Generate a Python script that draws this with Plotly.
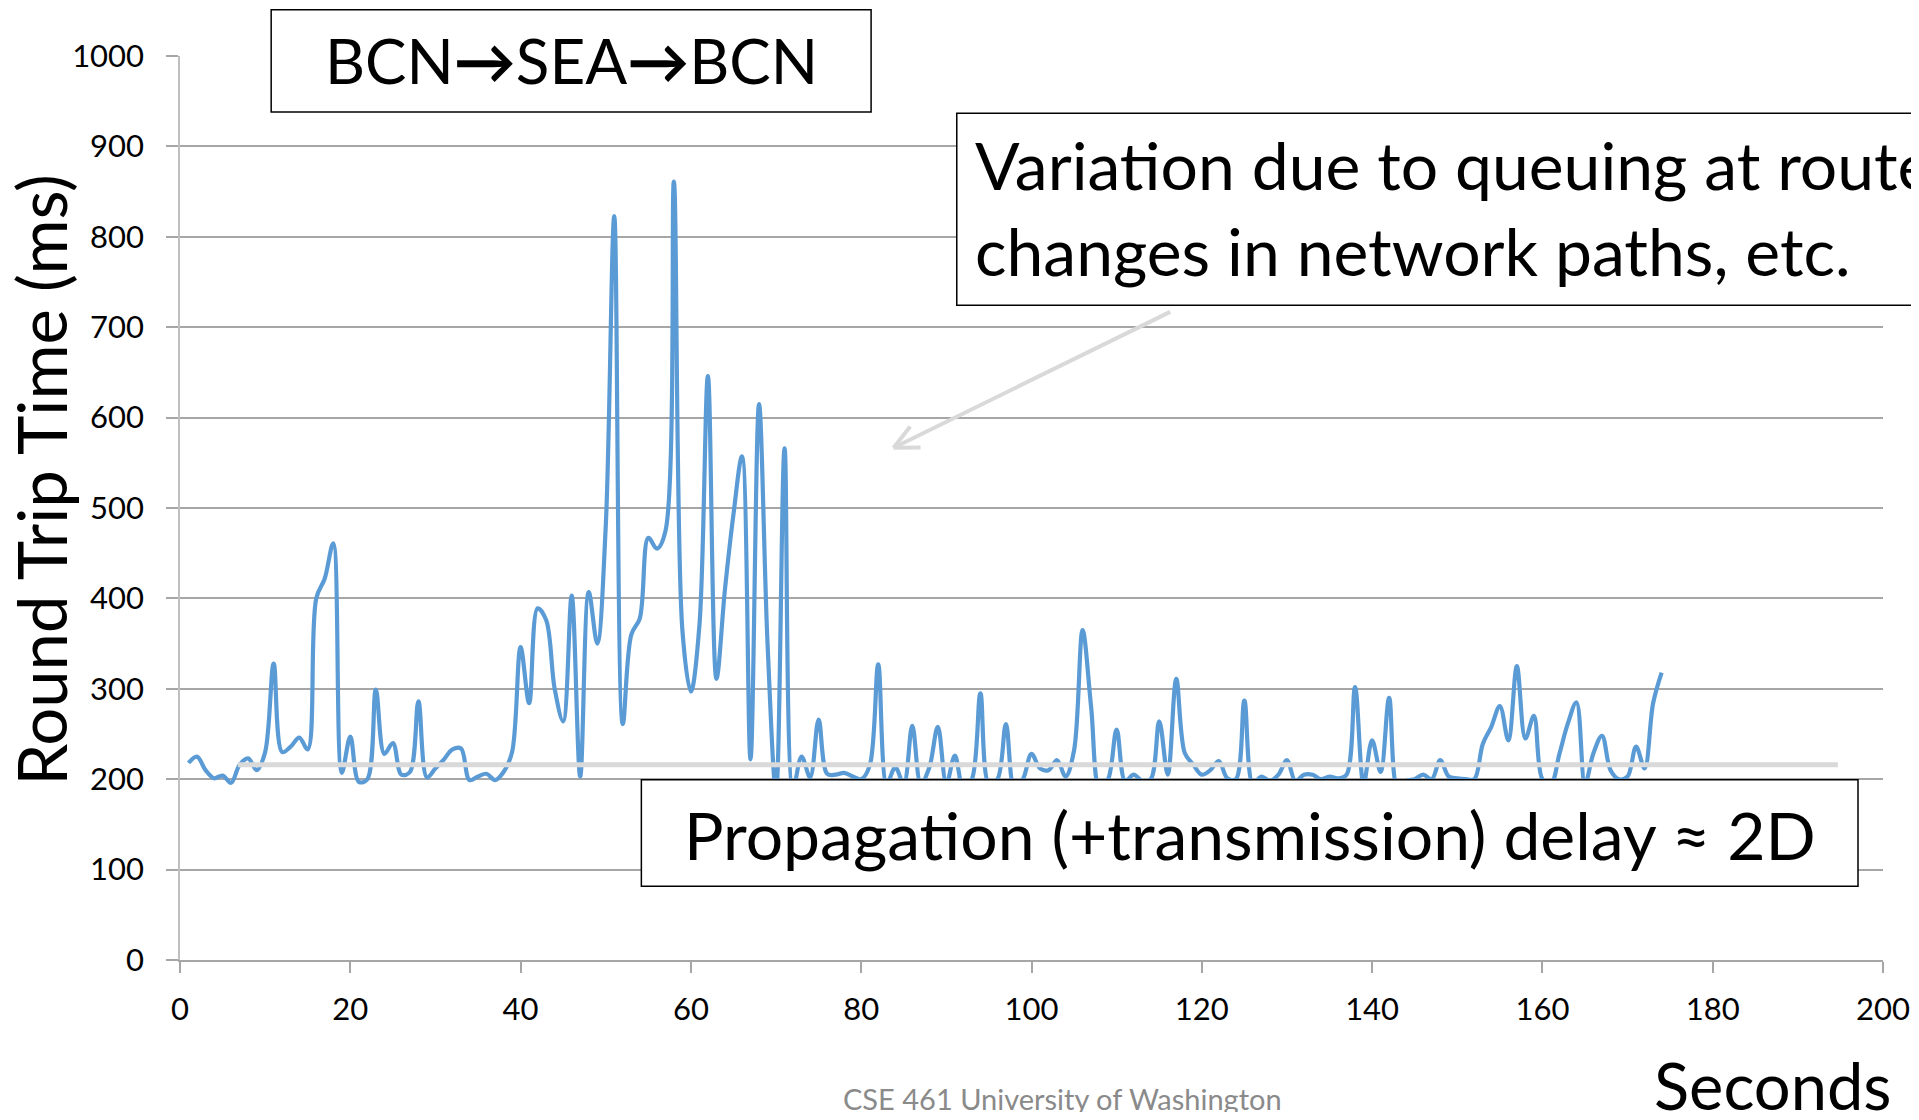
import math
import plotly.graph_objects as go

# RTT samples, one per second
seconds = list(range(1, 175))
rtt_ms = [
    218, 225, 210, 201, 204, 196, 216, 223, 210, 230,
    328, 230, 236, 246, 233, 400, 422, 461, 207, 247,
    197, 200, 299, 228, 240, 205, 208, 286, 202, 212,
    222, 233, 234, 199, 203, 206, 199, 208, 230, 346,
    284, 389, 376, 300, 264, 403, 203, 407, 350, 480,
    823, 261, 360, 378, 467, 455, 474, 861, 365, 297,
    370, 646, 311, 410, 493, 557, 222, 615, 350, 185,
    566, 190, 225, 202, 266, 206, 205, 207, 203, 200,
    215, 327, 195, 213, 195, 259, 195, 213, 258, 195,
    226, 190, 200, 295, 195, 200, 261, 190, 200, 228,
    212, 210, 221, 203, 232, 365, 280, 190, 200, 255,
    198, 205, 198, 200, 264, 205, 311, 229, 216, 205,
    210, 220, 201, 200, 287, 195, 203, 198, 205, 221,
    198, 205, 205, 200, 203, 201, 205, 302, 195, 243,
    208, 290, 190, 198, 200, 205, 200, 221, 203, 201,
    200, 200, 239, 258, 281, 243, 325, 245, 270, 200,
    195, 228, 262, 285, 195, 229, 248, 210, 200, 203,
    236, 212, 284, 318,
]

x_ticks = list(range(0, 201, 20))
y_ticks = list(range(0, 1001, 100))

# propagation delay level (ms) and its span (s)
base_delay = 216
base_span = [6.8, 194.7]

# page is 1919x1120, the plot div sits 8px in from the top-left (body margin);
# keep the bottom inside the window so no scrollbar shows up
OFF = 8
W, H = 1919 - OFF, 1120 - 2 * OFF
L, R, T, B = 179.5, 1883.0, 55.7, 960.3  # plot area in page pixels


def px(x):
    return (x - L) / (R - L)


def py(y):
    return (B - y) / (B - T)


fig = go.Figure()
fig.add_trace(
    go.Scatter(
        x=seconds,
        y=rtt_ms,
        mode="lines",
        line=dict(color="#5b9bd5", width=4.2, shape="spline", smoothing=1),
        showlegend=False,
    )
)

shapes = []
# 2D line
shapes.append(dict(type="line", xref="x", yref="y", x0=base_span[0], x1=base_span[1],
                   y0=base_delay, y1=base_delay, line=dict(color="#d9d9d9", width=5),
                   layer="above"))
# boxes
for x0, y0, x1, y1 in [(270.7, 9.5, 870.8, 111.7), (956.5, 113, 1930, 305), (641, 780, 1858, 886.5)]:
    shapes.append(dict(type="rect", xref="paper", yref="paper",
                       x0=px(x0), x1=px(x1), y0=py(y0), y1=py(y1),
                       fillcolor="white", line=dict(color="black", width=1.5), layer="above"))
# arrow
ax0, ay0, ax1, ay1 = 1170, 311.7, 893.3, 447.7
shapes.append(dict(type="line", xref="paper", yref="paper", x0=px(ax0), y0=py(ay0),
                   x1=px(ax1), y1=py(ay1), line=dict(color="#d9d9d9", width=4), layer="above"))
ang = math.atan2(ay0 - ay1, ax0 - ax1)
for d in (0.45, -0.45):
    hx = ax1 + 27 * math.cos(ang + d)
    hy = ay1 + 27 * math.sin(ang + d)
    shapes.append(dict(type="line", xref="paper", yref="paper", x0=px(ax1), y0=py(ay1),
                       x1=px(hx), y1=py(hy), line=dict(color="#d9d9d9", width=4), layer="above"))

annotations = [
    dict(text="BCN<b>→</b>SEA<b>→</b>BCN", x=px(571), y=py(59.5), xanchor="center", yanchor="middle",
         font=dict(size=62, color="black")),
    dict(text="Variation due to queuing at routers,", x=px(973), y=py(164), xanchor="left",
         yanchor="middle", font=dict(size=66, color="black")),
    dict(text="changes in network paths, etc.", x=px(973), y=py(250), xanchor="left",
         yanchor="middle", font=dict(size=66, color="black")),
    dict(text="Propagation (+transmission) delay ≈ 2D", x=px(1250), y=py(835), xanchor="center",
         yanchor="middle", font=dict(size=66, color="black")),
    dict(text="Round Trip Time (ms)", x=px(40), y=py(480), xanchor="center", yanchor="middle",
         textangle=-90, font=dict(size=67, color="black")),
    dict(text="Seconds", x=px(1894), y=py(1085), xanchor="right", yanchor="middle",
         font=dict(size=65, color="black")),
    dict(text="CSE 461 University of Washington", x=px(1062), y=py(1099), xanchor="center",
         yanchor="middle", font=dict(size=29, color="#8a8a8a")),
]
for a in annotations:
    a.update(xref="paper", yref="paper", showarrow=False)

fig.update_layout(
    width=W,
    height=H,
    margin=dict(l=L - OFF, r=1919 - R, t=T - OFF, b=1120 - OFF - B, pad=0),
    paper_bgcolor="white",
    plot_bgcolor="white",
    font=dict(family="Lato", size=31, color="black"),
    xaxis=dict(
        range=[0, 200],
        tickvals=x_ticks,
        showgrid=False,
        zeroline=False,
        showline=True,
        linecolor="#a6a6a6",
        linewidth=1.5,
        ticks="outside",
        ticklen=11,
        tickwidth=1.5,
        tickcolor="#a6a6a6",
        ticklabelstandoff=10,
        automargin=False,
    ),
    yaxis=dict(
        range=[0, 1000],
        tickvals=y_ticks,
        showgrid=True,
        gridcolor="#a6a6a6",
        gridwidth=1.5,
        zeroline=False,
        showline=True,
        linecolor="#bfbfbf",
        linewidth=1.5,
        ticks="outside",
        ticklen=12,
        tickwidth=1.5,
        tickcolor="#a6a6a6",
        ticklabelstandoff=16,
        automargin=False,
    ),
    shapes=shapes,
    annotations=annotations,
)

fig.write_html("out.html")
